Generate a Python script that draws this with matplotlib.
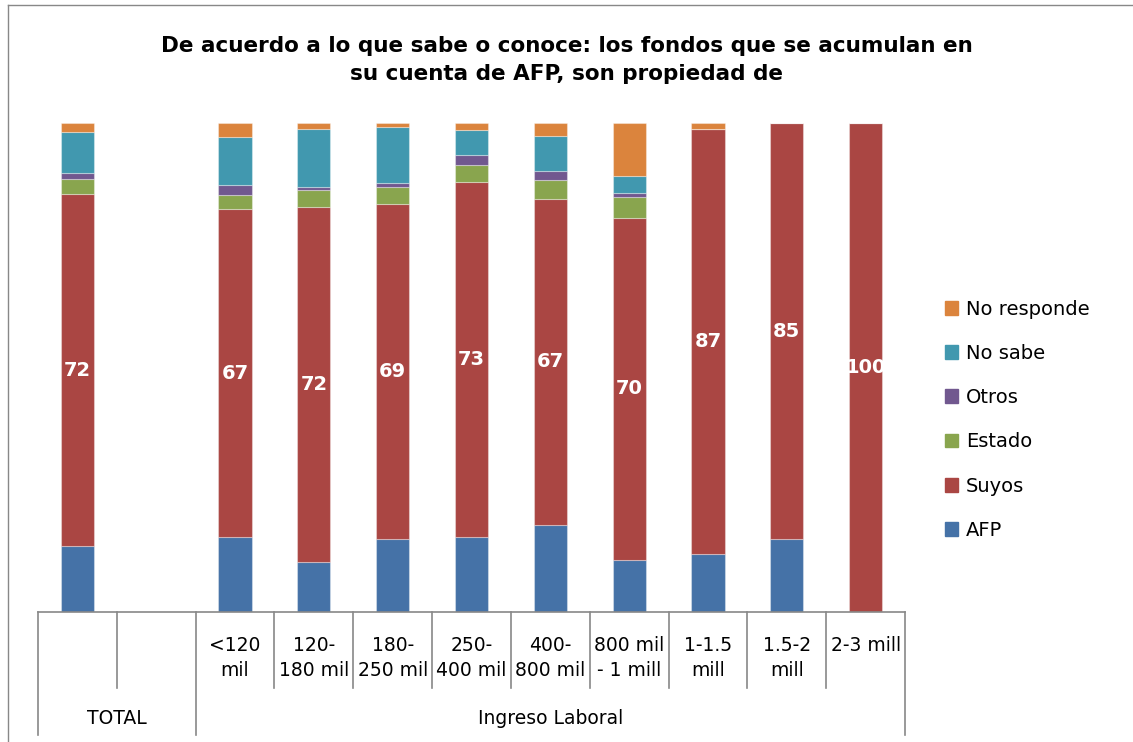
import matplotlib.pyplot as plt
from matplotlib.lines import Line2D
from matplotlib.patches import Patch
import numpy as np

# datos (%)
categorias = ['', '', '<120\nmil', '120-\n180 mil', '180-\n250 mil', '250-\n400 mil',
              '400-\n800 mil', '800 mil\n- 1 mill', '1-1.5\nmill', '1.5-2\nmill', '2-3 mill']
grupos = ['TOTAL', 'Ingreso Laboral']

afp         = [13.4, 0, 15.3, 10.1, 14.8, 15.3, 17.8, 10.6, 11.7, 14.8, 0]
suyos       = [72.0, 0, 67.0, 72.6, 68.6, 72.6, 66.6, 70.0, 87.0, 85.2, 100]
estado      = [3.0, 0, 2.9, 3.5, 3.4, 3.5, 3.9, 4.2, 0, 0, 0]
otros       = [1.4, 0, 2.0, 0.7, 0.8, 2.0, 1.9, 0.8, 0, 0, 0]
no_sabe     = [8.2, 0, 9.8, 11.9, 11.6, 5.1, 7.0, 3.6, 0, 0, 0]
no_responde = [2.0, 0, 3.0, 1.2, 0.8, 1.5, 2.8, 10.8, 1.3, 0, 0]
etiquetas_suyos = ['72', '', '67', '72', '69', '73', '67', '70', '87', '85', '100']

series = [('AFP', afp, '#4572A7'),
          ('Suyos', suyos, '#AA4643'),
          ('Estado', estado, '#89A54E'),
          ('Otros', otros, '#71588F'),
          ('No sabe', no_sabe, '#4198AF'),
          ('No responde', no_responde, '#DB843D')]

fig = plt.figure(figsize=(11.33, 7.42), dpi=100)
ax = fig.add_axes([38 / 1133, 1 - 611.7 / 742, (905 - 38) / 1133, 489 / 742])

x = np.arange(len(categorias))
base = np.zeros(len(categorias))
for nombre, vals, color in series:
    vals = np.array(vals)
    ax.bar(x, vals, 0.42, bottom=base, color=color, edgecolor=(1, 1, 1, 0.35), linewidth=0.8)
    if nombre == 'Suyos':
        for i, v in enumerate(vals):
            if v > 0:
                ax.text(i, base[i] + v / 2, etiquetas_suyos[i], ha='center', va='center',
                        color='white', fontsize=14, fontweight='bold')
    base += vals

ax.set_xlim(-0.5, len(categorias) - 0.5)
ax.set_ylim(0, 100)
ax.set_yticks([])
ax.set_xticks([])
for s in ['top', 'right', 'left']:
    ax.spines[s].set_visible(False)
ax.spines['bottom'].set_color('#888888')
ax.spines['bottom'].set_linewidth(1.2)

# ejes jerarquicos
trans = ax.get_xaxis_transform()
for b in np.arange(-0.5, len(categorias), 1.0):
    fondo = -0.252 if b in (-0.5, 1.5, len(categorias) - 0.5) else -0.156
    ax.plot([b, b], [0, fondo], color='#888888', lw=1.2, transform=trans, clip_on=False)
for i, c in enumerate(categorias):
    ax.text(i, -0.049, c, ha='center', va='top', fontsize=13.5, transform=trans,
            linespacing=1.45)
ax.text(0.5, -0.218, grupos[0], ha='center', va='center', fontsize=13.5, transform=trans)
ax.text(6, -0.218, grupos[1], ha='center', va='center', fontsize=13.5, transform=trans)

# leyenda
handles = [Patch(color=c, label=n) for n, _, c in series][::-1]
fig.legend(handles=handles, loc='upper left', bbox_to_anchor=(927 / 1133, 1 - 282 / 742),
           frameon=False, fontsize=14, handlelength=0.7, handleheight=0.7,
           handletextpad=0.4, labelspacing=1.3)

fig.text(0.5, 1 - 60 / 742, 'De acuerdo a lo que sabe o conoce: los fondos que se acumulan en\n'
         'su cuenta de AFP, son propiedad de', ha='center', va='center',
         fontsize=15.5, fontweight='bold', linespacing=1.45)

# borde del grafico
fig.add_artist(Line2D([8 / 1133, 8 / 1133], [0, 1 - 5 / 742], color='#888888', lw=1))
fig.add_artist(Line2D([8 / 1133, 1], [1 - 5 / 742, 1 - 5 / 742], color='#888888', lw=1))

fig.savefig('out.png', dpi=100)
